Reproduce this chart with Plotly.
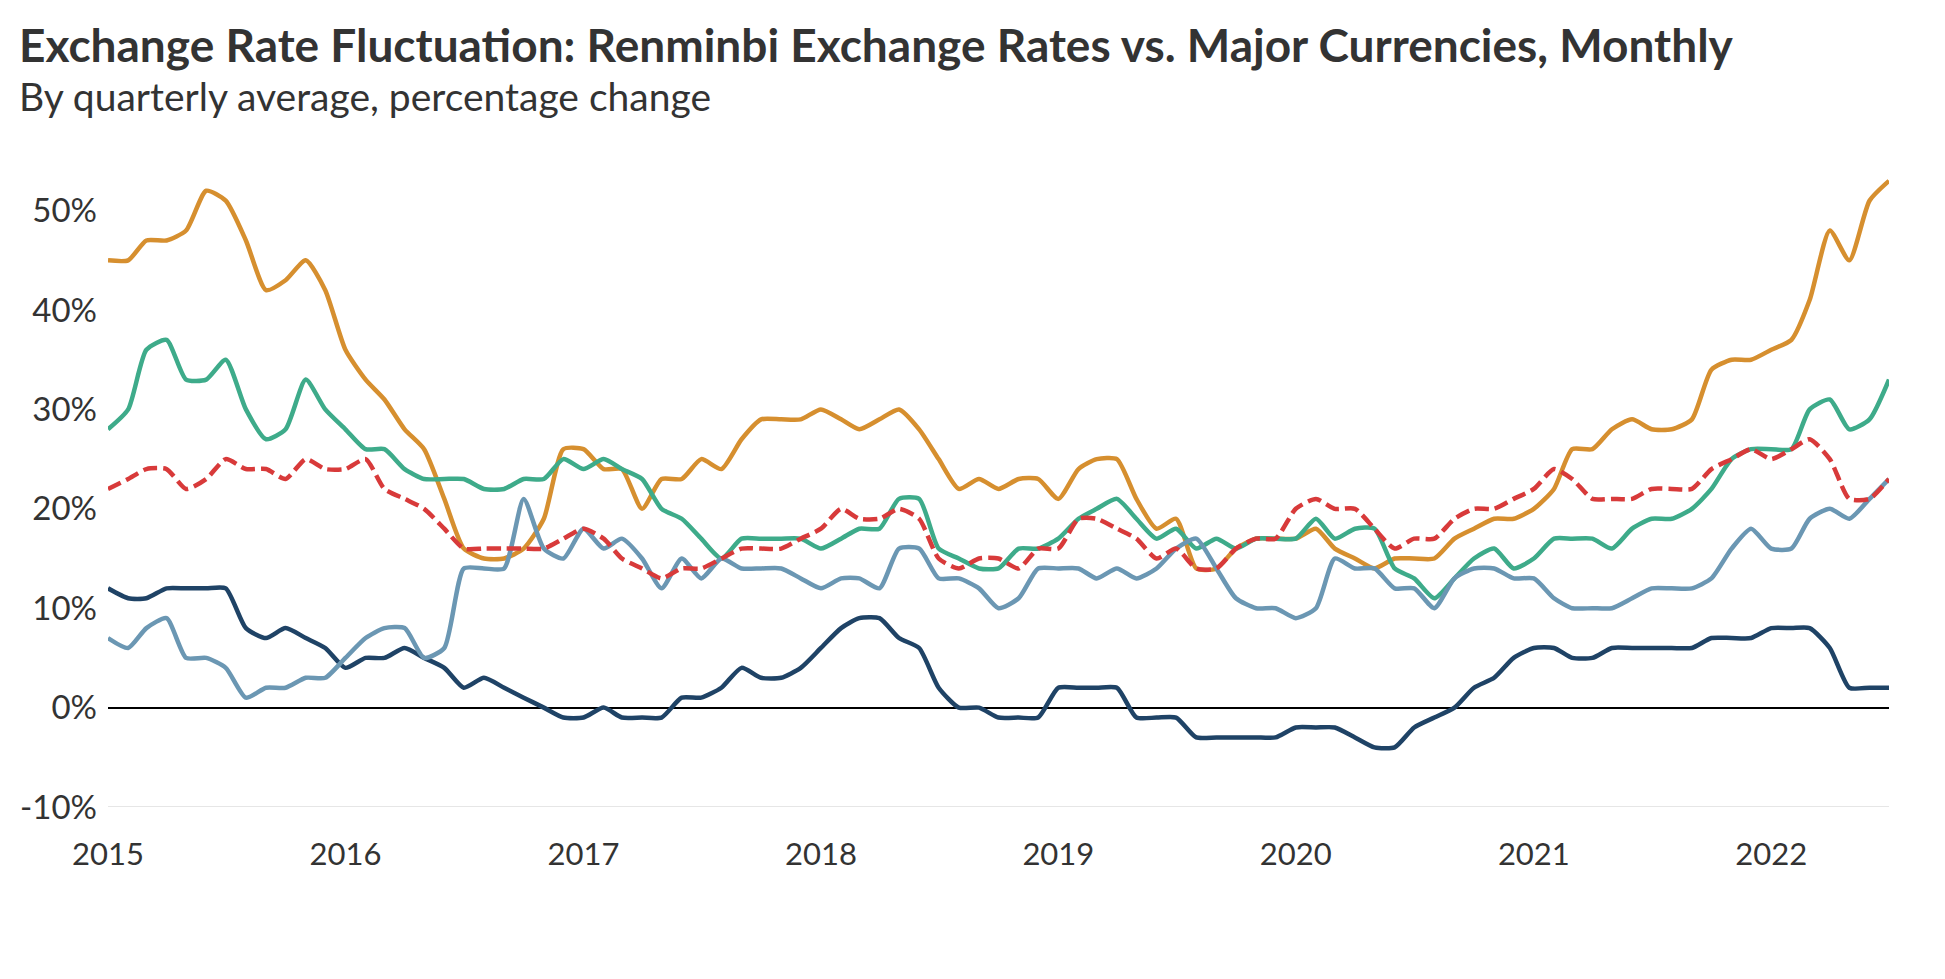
import pandas as pd
import plotly.graph_objects as go

# Monthly, Jan 2015 - Jul 2022
months = pd.date_range("2015-01-01", "2022-07-01", freq="MS")

orange = [45, 45, 47, 47, 48, 52, 51, 47, 42, 43, 45, 42, 36, 33, 31, 28, 26, 21, 16, 15, 15, 16, 19,
          26, 26, 24, 24, 20, 23, 23, 25, 24, 27, 29, 29, 29, 30, 29, 28, 29, 30, 28, 25, 22, 23, 22,
          23, 23, 21, 24, 25, 25, 21, 18, 19, 14, 14, 16, 17, 17, 17, 18, 16, 15, 14, 15, 15, 15, 17,
          18, 19, 19, 20, 22, 26, 26, 28, 29, 28, 28, 29, 34, 35, 35, 36, 37, 41, 48, 45, 51, 53]

green = [28, 30, 36, 37, 33, 33, 35, 30, 27, 28, 33, 30, 28, 26, 26, 24, 23, 23, 23, 22, 22, 23, 23,
         25, 24, 25, 24, 23, 20, 19, 17, 15, 17, 17, 17, 17, 16, 17, 18, 18, 21, 21, 16, 15, 14, 14,
         16, 16, 17, 19, 20, 21, 19, 17, 18, 16, 17, 16, 17, 17, 17, 19, 17, 18, 18, 14, 13, 11, 13,
         15, 16, 14, 15, 17, 17, 17, 16, 18, 19, 19, 20, 22, 25, 26, 26, 26, 30, 31, 28, 29, 33]

red = [22, 23, 24, 24, 22, 23, 25, 24, 24, 23, 25, 24, 24, 25, 22, 21, 20, 18, 16, 16, 16, 16, 16,
       17, 18, 17, 15, 14, 13, 14, 14, 15, 16, 16, 16, 17, 18, 20, 19, 19, 20, 19, 15, 14, 15, 15,
       14, 16, 16, 19, 19, 18, 17, 15, 16, 14, 14, 16, 17, 17, 20, 21, 20, 20, 18, 16, 17, 17, 19,
       20, 20, 21, 22, 24, 23, 21, 21, 21, 22, 22, 22, 24, 25, 26, 25, 26, 27, 25, 21, 21, 23]

lightblue = [7, 6, 8, 9, 5, 5, 4, 1, 2, 2, 3, 3, 5, 7, 8, 8, 5, 6, 14, 14, 14, 21, 16,
             15, 18, 16, 17, 15, 12, 15, 13, 15, 14, 14, 14, 13, 12, 13, 13, 12, 16, 16, 13, 13, 12, 10,
             11, 14, 14, 14, 13, 14, 13, 14, 16, 17, 14, 11, 10, 10, 9, 10, 15, 14, 14, 12, 12, 10, 13,
             14, 14, 13, 13, 11, 10, 10, 10, 11, 12, 12, 12, 13, 16, 18, 16, 16, 19, 20, 19, 21, 23]

navy = [12, 11, 11, 12, 12, 12, 12, 8, 7, 8, 7, 6, 4, 5, 5, 6, 5, 4, 2, 3, 2, 1, 0,
        -1, -1, 0, -1, -1, -1, 1, 1, 2, 4, 3, 3, 4, 6, 8, 9, 9, 7, 6, 2, 0, 0, -1,
        -1, -1, 2, 2, 2, 2, -1, -1, -1, -3, -3, -3, -3, -3, -2, -2, -2, -3, -4, -4, -2, -1, 0,
        2, 3, 5, 6, 6, 5, 5, 6, 6, 6, 6, 6, 7, 7, 7, 8, 8, 8, 6, 2, 2, 2]

year_ticks = ["2015-01-01", "2016-01-01", "2017-01-01", "2018-01-01",
              "2019-01-01", "2020-01-01", "2021-01-01", "2022-01-01"]
year_labels = ["2015", "2016", "2017", "2018", "2019", "2020", "2021", "2022"]
y_ticks = [-10, 0, 10, 20, 30, 40, 50]
y_labels = ["-10%", "0%", "10%", "20%", "30%", "40%", "50%"]

series = [
    ("Navy series", navy, "#1f4366", "solid"),
    ("Orange series", orange, "#d68f2f", "solid"),
    ("Green series", green, "#3eab8a", "solid"),
    ("Light blue series", lightblue, "#6b97b3", "solid"),
    ("Red dashed series", red, "#d83a3a", "14px,6px"),
]

fig = go.Figure()
for name, vals, color, dash in series:
    fig.add_trace(go.Scatter(
        x=months, y=vals, mode="lines", name=name,
        line=dict(color=color, width=4.5, dash=dash, shape="spline", smoothing=0.6),
        showlegend=False,
    ))

W, H = 1945, 979
ml, mr, mt, mb = 84, 64, 143, 180
plot_w = W - ml - mr
plot_h = H - mt - mb

FONT = "Lato"
TXT = "#333333"

fig.update_layout(
    width=W, height=H,
    margin=dict(l=ml, r=mr, t=mt, b=mb),
    paper_bgcolor="white", plot_bgcolor="white",
    font=dict(family=FONT, color=TXT, size=31),
    xaxis=dict(
        range=[months[0], months[-1]],
        tickvals=year_ticks, ticktext=year_labels,
        showgrid=False, zeroline=False,
        showline=False, ticks="",
        ticklabelstandoff=26,
        tickfont=dict(family=FONT, size=31, color=TXT),
    ),
    yaxis=dict(
        range=[-10, 56],
        tickvals=y_ticks, ticktext=y_labels,
        showgrid=False,
        zeroline=True, zerolinecolor="#000000", zerolinewidth=2,
        ticks="", ticklabelstandoff=10,
        tickfont=dict(family=FONT, size=33, color=TXT),
    ),
    shapes=[dict(type="line", xref="paper", yref="y", x0=0, x1=1, y0=-10, y1=-10,
                 line=dict(color="#e6e6e6", width=2), layer="below")],
    annotations=[
        dict(text="<b>Exchange Rate Fluctuation: Renminbi Exchange Rates vs. Major Currencies, Monthly</b>",
             xref="paper", yref="paper", x=(-8 - ml) / plot_w, y=(H - mb - 36) / plot_h,
             xanchor="left", yanchor="middle", showarrow=False,
             font=dict(family=FONT, size=46, color=TXT)),
        dict(text="By quarterly average, percentage change",
             xref="paper", yref="paper", x=(-8 - ml) / plot_w, y=(H - mb - 88) / plot_h,
             xanchor="left", yanchor="middle", showarrow=False,
             font=dict(family=FONT, size=39, color=TXT)),
    ],
)

fig.write_html("out.html")
